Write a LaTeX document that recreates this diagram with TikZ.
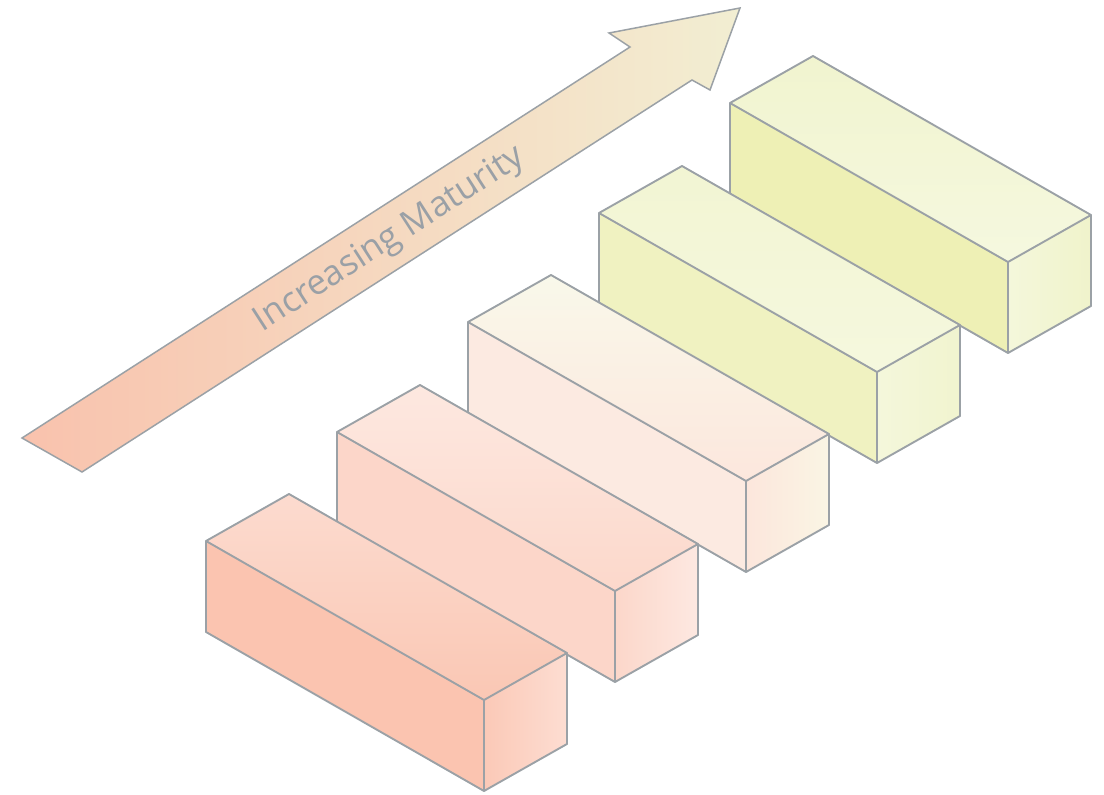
\documentclass[tikz,border=0pt]{standalone}
\usepackage{fontspec}
\setmainfont{Open Sans}

% outline and label colours
\definecolor{edgegray}{HTML}{9BA1A6}
\definecolor{labelgray}{HTML}{9AA0A6}
% arrow gradient
\definecolor{arrowA}{HTML}{F9C2AD}
\definecolor{arrowB}{HTML}{F2EED2}
% step 1
\definecolor{fA}{HTML}{FBC4B0}\definecolor{tA1}{HTML}{FAC7B4}\definecolor{tA2}{HTML}{FCDBCF}
\definecolor{rA1}{HTML}{FBC9B7}\definecolor{rA2}{HTML}{FDDDD2}
% step 2
\definecolor{fB}{HTML}{FCD6C9}\definecolor{tB1}{HTML}{FCD8CB}\definecolor{tB2}{HTML}{FDE8E0}
\definecolor{rB1}{HTML}{FCD7CA}\definecolor{rB2}{HTML}{FDE8E1}
% step 3
\definecolor{fC}{HTML}{FCEAE1}\definecolor{tC1}{HTML}{FCE7DD}\definecolor{tC2}{HTML}{F9F8EA}
\definecolor{rC1}{HTML}{FCE6DC}\definecolor{rC2}{HTML}{FAF5E4}
% step 4
\definecolor{fD}{HTML}{F0F2C1}\definecolor{tD1}{HTML}{F5F8DE}\definecolor{tD2}{HTML}{F2F5D3}
\definecolor{rD1}{HTML}{F4F7DB}\definecolor{rD2}{HTML}{F1F4CF}
% step 5
\definecolor{fE}{HTML}{EEF0B5}\definecolor{tE1}{HTML}{F5F8DF}\definecolor{tE2}{HTML}{F1F4CF}
\definecolor{rE1}{HTML}{F4F7DB}\definecolor{rE2}{HTML}{F0F3CB}

% one block: #1,#2 front top-left corner; #3 front colour;
% #4,#5 top face (front -> back); #6,#7 end face (left -> right)
\newcommand\stepblock[7]{%
  \begin{scope}[shift={(#1,#2)}]
    \fill[#3] (0,0) -- (278,159) -- (278,250) -- (0,91) -- cycle;
    \shade[bottom color=#4, top color=#5]
      (0,0) -- (83,-47) -- (361,112) -- (278,159) -- cycle;
    \shade[left color=#6, right color=#7]
      (278,159) -- (361,112) -- (361,203) -- (278,250) -- cycle;
    \draw[edge] (0,0) -- (83,-47) -- (361,112) -- (361,203) -- (278,250)
      -- (0,91) -- cycle;
    \draw[edge] (0,0) -- (278,159) -- (361,112);
    \draw[edge] (278,159) -- (278,250);
  \end{scope}}

\begin{document}
\begin{tikzpicture}[x=1pt,y=-1pt,
  edge/.style={draw=edgegray,line width=1.9pt,line join=round},
  arrowline/.style={draw=edgegray,line width=1.5pt,line join=miter}]
\useasboundingbox (0,0) rectangle (1104,795);

% the rising arrow
\coordinate (tailA) at (22,438);
\coordinate (tailB) at (82,472);
\coordinate (shaftA) at (630,47);
\coordinate (barbA) at (609,33);
\coordinate (tip) at (740,8);
\coordinate (barbB) at (710,90);
\coordinate (shaftB) at (692,80);
\path[left color=arrowA, right color=arrowB]
  (tailA) -- (shaftA) -- (barbA) -- (tip) -- (barbB) -- (shaftB) -- (tailB) -- cycle;
\draw[arrowline]
  (tailA) -- (shaftA) -- (barbA) -- (tip) -- (barbB) -- (shaftB) -- (tailB) -- cycle;
\node[rotate=32.8, text=labelgray, inner sep=0pt,
  font=\fontsize{35}{35}\selectfont] (label) at (390,240) {Increasing Maturity};

% the five steps, farthest first
\stepblock{730}{103}{fE}{tE1}{tE2}{rE1}{rE2}
\stepblock{599}{213}{fD}{tD1}{tD2}{rD1}{rD2}
\stepblock{468}{322}{fC}{tC1}{tC2}{rC1}{rC2}
\stepblock{337}{432}{fB}{tB1}{tB2}{rB1}{rB2}
\stepblock{206}{541}{fA}{tA1}{tA2}{rA1}{rA2}
\end{tikzpicture}
\end{document}
